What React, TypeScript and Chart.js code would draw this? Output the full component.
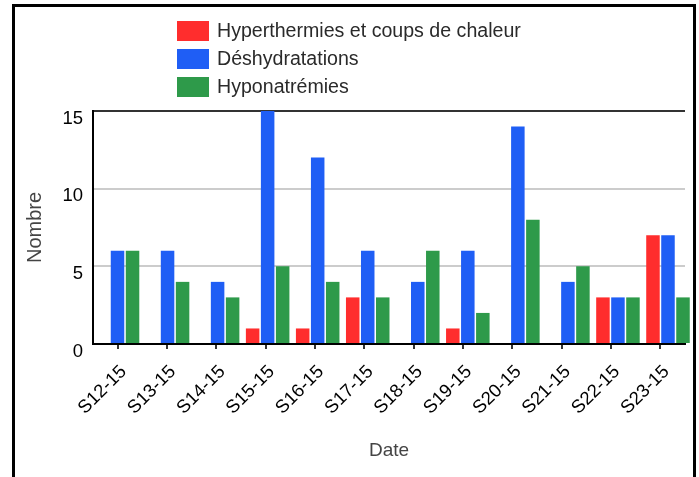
import { useEffect, useRef } from "react";
import { Chart, registerables } from "chart.js";

Chart.register(...registerables);

const categories = [
  "S12-15", "S13-15", "S14-15", "S15-15", "S16-15", "S17-15",
  "S18-15", "S19-15", "S20-15", "S21-15", "S22-15", "S23-15",
];
const hyperthermies = [0, 0, 0, 1, 1, 3, 0, 1, 0, 0, 3, 7];
const deshydratations = [6, 6, 4, 15, 12, 6, 4, 6, 14, 4, 3, 7];
const hyponatremies = [6, 4, 3, 5, 4, 3, 6, 2, 8, 5, 3, 3];
const seriesLabels = [
  "Hyperthermies et coups de chaleur",
  "Déshydratations",
  "Hyponatrémies",
];
const seriesColors = ["#ff2d2d", "#1f5ef5", "#2e9a4a"];
const yMin = 0;
const yMax = 15;
const yStep = 5;

const FONT = '"Liberation Sans", Arial, sans-serif';

const legendPlugin = {
  id: "verticalLegend",
  afterDraw(chart: any) {
    const ctx = chart.ctx;
    ctx.save();
    chart.data.datasets.forEach((ds: any, i: number) => {
      const top = 21 + i * 28;
      ctx.fillStyle = ds.backgroundColor;
      ctx.fillRect(177, top, 32, 20);
      ctx.fillStyle = "#2a2a2a";
      ctx.font = `19.6px ${FONT}`;
      ctx.textBaseline = "middle";
      ctx.textAlign = "left";
      ctx.fillText(ds.label, 217, top + 11);
    });
    ctx.restore();
  },
};

export default function App() {
  const ref = useRef<HTMLCanvasElement | null>(null);

  useEffect(() => {
    if (!ref.current) return;
    const seriesValues = [hyperthermies, deshydratations, hyponatremies];
    const n = categories.length;
    const chart = new Chart(ref.current, {
      type: "bar",
      data: {
        labels: categories,
        datasets: seriesValues.map((vals, s) => ({
          label: seriesLabels[s],
          data: vals.map((v, i) => ({ x: i, y: v })),
          backgroundColor: seriesColors[s],
          borderWidth: 0,
          xAxisID: "xb",
          yAxisID: "y",
          clip: false as any,
          categoryPercentage: 0.9,
          barPercentage: 0.9,
        })),
      },
      options: {
        animation: false,
        responsive: false,
        devicePixelRatio: 1,
        layout: { padding: { top: 111, right: 14, left: 0, bottom: 0 } },
        plugins: {
          legend: { display: false },
          tooltip: { enabled: false },
        },
        scales: {
          x: {
            type: "category",
            position: "bottom",
            offset: true,
            grid: {
              display: true,
              drawOnChartArea: false,
              drawTicks: true,
              tickLength: 5,
              color: "#333",
              lineWidth: 2,
              offset: false,
            },
            border: { display: true, color: "#000", width: 2 },
            ticks: {
              autoSkip: false,
              minRotation: 45,
              maxRotation: 45,
              color: "#000",
              font: { family: FONT, size: 18.5 },
              padding: 12,
              labelOffset: 6,
            },
            title: {
              display: true,
              text: "Date",
              color: "#444",
              font: { family: FONT, size: 19 },
              padding: { top: 0, bottom: 15 },
            },
            afterFit: (s: any) => {
              s.height = 133;
            },
          },
          xb: {
            type: "linear",
            display: false,
            offset: false,
            min: -0.49,
            max: n - 1 + 0.34,
            grid: { offset: false },
          },
          y: {
            type: "linear",
            min: yMin,
            max: yMax,
            ticks: {
              stepSize: yStep,
              color: "#000",
              font: { family: FONT, size: 18.5 },
              padding: 10,
              labelOffset: 7.5,
            },
            grid: {
              drawTicks: false,
              lineWidth: 2,
              color: (c: any) =>
                c.tick && c.tick.value === yMax
                  ? "#333"
                  : c.tick && c.tick.value === yMin
                  ? "rgba(0,0,0,0)"
                  : "#cccccc",
            },
            border: { display: true, color: "#000", width: 2 },
            title: {
              display: true,
              text: "Nombre",
              color: "#444",
              font: { family: FONT, size: 20 },
              padding: { top: 23, bottom: 0 },
            },
            afterFit: (s: any) => {
              s.width = 93;
            },
          },
        } as any,
      },
      plugins: [legendPlugin],
    });
    return () => chart.destroy();
  }, []);

  return (
    <>
      <canvas
        ref={ref}
        width={699}
        height={477}
        style={{ position: "absolute", left: 0, top: 0, width: 699, height: 477, background: "#fff" }}
      />
      <div
        style={{
          position: "absolute",
          left: 12,
          top: 4,
          width: 684,
          height: 520,
          boxSizing: "border-box",
          border: "3px solid #000",
          pointerEvents: "none",
        }}
      />
    </>
  );
}
